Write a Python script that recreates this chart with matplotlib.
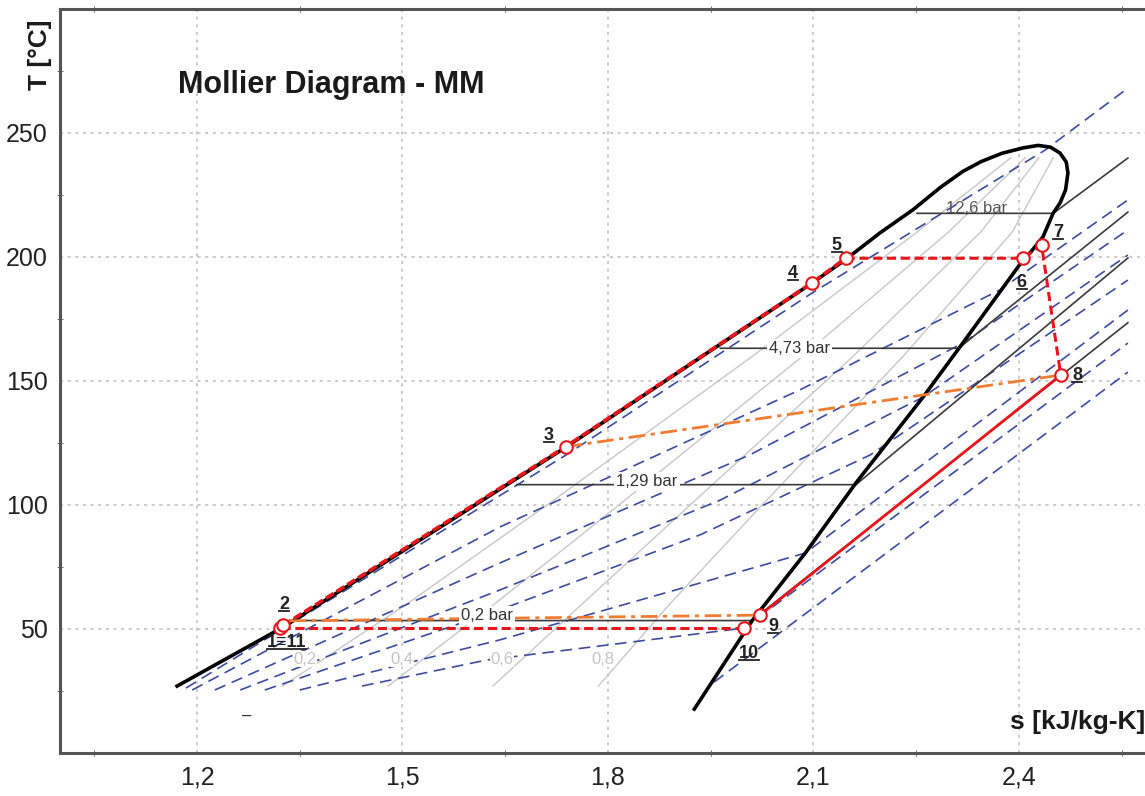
import matplotlib
matplotlib.use('Agg')
import matplotlib.pyplot as plt
from matplotlib.lines import Line2D
from matplotlib.transforms import IdentityTransform

plt.rcParams['font.family'] = ['Liberation Sans', 'DejaVu Sans']

# saturation dome (liquid side up to critical point, then vapour side down)
dome_s = [1.171, 1.326, 1.739, 2.098, 2.146, 2.197, 2.245, 2.285, 2.318, 2.345, 2.375,
          2.406, 2.428, 2.446, 2.460, 2.469, 2.4715, 2.468, 2.460, 2.450, 2.435, 2.416,
          2.406, 2.318, 2.260, 2.162, 2.088, 2.010, 1.926]
dome_T = [27.0, 50.8, 123.4, 189.5, 198.8, 209.7, 219.0, 228.0, 234.5, 238.5, 241.8,
          244.0, 245.0, 244.3, 241.9, 238.3, 233.9, 227.0, 221.8, 217.7, 208.1, 201.6,
          198.8, 165.3, 143.5, 108.9, 80.6, 53.2, 17.7]

# vapour quality lines
qual_T = [27, 60, 100, 160, 210, 240]
qual_02 = [1.325, 1.506, 1.711, 2.011, 2.251, 2.388]
qual_04 = [1.479, 1.634, 1.816, 2.084, 2.297, 2.409]
qual_06 = [1.632, 1.762, 1.920, 2.158, 2.344, 2.429]
qual_08 = [1.786, 1.890, 2.025, 2.231, 2.390, 2.450]
qual_labels = ['0,2', '0,4', '0,6', '0,8']
qual_label_s = [1.358, 1.499, 1.645, 1.793]
qual_label_T = 37.9

# isobars: saturation temperature and ends on the dome, then superheated branch
bar_labels = ['0,2 bar', '1,29 bar', '4,73 bar', '12,6 bar']
bar_T = [53.4, 108.2, 163.2, 217.6]
bar_s_liq = [1.336, 1.667, 1.964, 2.251]
bar_s_vap = [2.010, 2.162, 2.312, 2.450]
bar_end_s = [2.559, 2.559, 2.559, 2.559]
bar_end_T = [173.5, 199.6, 218.1, 239.9]
bar_label_s = [1.623, 1.857, 2.080, 2.338]
bar_label_T = [55.6, 109.4, 163.3, 219.6]

# isochores (blue dashed)
v1_s = [1.184, 1.739, 2.098, 2.438, 2.559]
v1_T = [26.2, 120.2, 185.5, 243.1, 268.1]
v2_s = [1.193, 1.642, 2.080, 2.372, 2.559]
v2_T = [25.4, 91.1, 146.4, 186.7, 223.0]
v3_s = [1.226, 1.642, 2.007, 2.318, 2.559]
v3_T = [25.4, 76.6, 120.2, 165.3, 210.9]
v4_s = [1.263, 1.642, 1.964, 2.260, 2.559]
v4_T = [25.4, 65.7, 102.0, 143.5, 200.8]
v5_s = [1.299, 1.642, 1.934, 2.183, 2.559]
v5_T = [25.4, 57.7, 87.9, 120.2, 190.7]
v6_s = [1.350, 1.642, 2.088, 2.559]
v6_T = [25.4, 45.6, 80.6, 178.6]
v7_s = [1.441, 1.623, 1.999, 2.559]
v7_T = [27.0, 37.5, 50.4, 165.3]
v8_s = [1.955, 2.559]
v8_T = [28.6, 153.6]

# cycle state points 1..10
state_s = [1.321, 1.326, 1.738, 2.098, 2.147, 2.406, 2.433, 2.461, 2.022, 1.999]
state_T = [50.3, 51.5, 123.5, 189.6, 199.5, 199.5, 204.8, 152.4, 55.6, 50.3]
label_text = ['1≡11', '2', '3', '4', '5', '6', '7', '8', '9', '10']
label_s = [1.331, 1.327, 1.714, 2.070, 2.134, 2.404, 2.457, 2.485, 2.041, 2.006]
label_T = [44.4, 59.7, 128.2, 193.5, 204.8, 189.9, 209.7, 152.4, 51.2, 40.3]

# orange regenerator lines
regen_hot_s = [1.738, 2.461]
regen_hot_T = [123.5, 152.4]
regen_cold_s = [1.335, 2.022]
regen_cold_T = [53.3, 55.6]

xticks = [1.2, 1.5, 1.8, 2.1, 2.4]
xtick_labels = ['1,2', '1,5', '1,8', '2,1', '2,4']
yticks = [50, 100, 150, 200, 250]

fig = plt.figure(figsize=(11.45, 7.96), dpi=100)
ax = fig.add_axes([60 / 1145, 43 / 796, 1085 / 1145, 744 / 796])
ax.set_xlim(1.0, 2.584)
ax.set_ylim(0, 300)

blue = '#3c4c9e'
red = '#e8151b'
orange = '#f07c32'

for q in [qual_02, qual_04, qual_06, qual_08]:
    ax.plot(q, qual_T, color='#c8c8c8', lw=1.0, zorder=2)
for txt, s in zip(qual_labels, qual_label_s):
    ax.text(s, qual_label_T, txt, color='#c4c4c4', fontsize=12, ha='center', va='center', zorder=8,
            bbox=dict(facecolor='white', edgecolor='none', pad=0.5))

for vs, vT in [(v1_s, v1_T), (v2_s, v2_T), (v3_s, v3_T), (v4_s, v4_T),
               (v5_s, v5_T), (v6_s, v6_T), (v7_s, v7_T), (v8_s, v8_T)]:
    ax.plot(vs, vT, color=blue, lw=1.2, dashes=(7, 4), zorder=3)

for i in range(4):
    ax.plot([bar_s_liq[i], bar_s_vap[i], bar_end_s[i]], [bar_T[i], bar_T[i], bar_end_T[i]],
            color='#3a3a3a', lw=1.2, zorder=4)
for i in range(3):
    ax.text(bar_label_s[i], bar_label_T[i], bar_labels[i], color='#333333', fontsize=12,
            ha='center', va='center', zorder=9,
            bbox=dict(facecolor='white', edgecolor='none', pad=1.5))
ax.text(bar_label_s[3], bar_label_T[3], bar_labels[3], color='#555555', fontsize=12,
        ha='center', va='center', zorder=9)

ax.plot(dome_s, dome_T, color='black', lw=2.6, zorder=5, solid_joinstyle='round')

# cycle
ax.plot(state_s[1:5], state_T[1:5], color=red, lw=2.6, dashes=(2.5, 1), zorder=6)
ax.plot(state_s[4:8], state_T[4:8], color=red, lw=2.2, dashes=(3, 1.5), zorder=6)
ax.plot(state_s[7:9], state_T[7:9], color=red, lw=2.0, zorder=6)
ax.plot([state_s[9], state_s[0]], [state_T[9], state_T[0]], color=red, lw=2.2, dashes=(3, 1.5), zorder=6)
ax.plot(regen_hot_s, regen_hot_T, color=orange, lw=2.0, dashes=(6, 2, 1.5, 2), zorder=6)
ax.plot(regen_cold_s, regen_cold_T, color=orange, lw=2.0, dashes=(6, 2, 1.5, 2), zorder=6)
ax.plot(state_s, state_T, 'o', mfc='white', mec=red, ms=9, mew=1.5, zorder=10)

point_labels = []
for txt, s, T in zip(label_text, label_s, label_T):
    point_labels.append(ax.text(s, T, txt, fontsize=13, fontweight='bold', color='#222222',
                                ha='center', va='center', zorder=11))

ax.text(1.273, 14.9, '–', fontsize=12, color='#222222', ha='center', va='center')

ax.text(0.2498, 0.8978, 'Mollier Diagram - MM', transform=ax.transAxes, fontsize=22,
        fontweight='bold', ha='center', va='center', color='#1a1a1a')
ax.text(1.0, 0.0417, 's [kJ/kg-K]', transform=ax.transAxes, fontsize=19,
        fontweight='bold', ha='right', va='center', color='#1a1a1a')
fig.text(40 / 1145, 1 - 55 / 796, 'T [°C]', rotation=90, fontsize=19, fontweight='bold',
         ha='center', va='center', color='#1a1a1a')

ax.set_xticks(xticks)
ax.set_xticklabels(xtick_labels)
ax.set_xticks([1.05, 1.35, 1.65, 1.95, 2.25, 2.55], minor=True)
ax.set_yticks(yticks)
ax.set_yticks([25, 75, 125, 175, 225, 275], minor=True)
ax.tick_params(which='major', length=0, labelsize=18, labelcolor='#222222', pad=9)
ax.tick_params(which='minor', length=5, direction='inout', top=True, color='#555555')
ax.grid(which='major', color='#bdbdbd', ls=(0, (2, 3)), lw=1.1)
ax.set_axisbelow(True)
for side in ['left', 'bottom', 'top']:
    ax.spines[side].set_color('#555555')
    ax.spines[side].set_linewidth(2.2)
ax.spines['right'].set_visible(False)

# underline the state point labels
fig.canvas.draw()
renderer = fig.canvas.get_renderer()
for t in point_labels:
    bb = t.get_window_extent(renderer)
    fig.add_artist(Line2D([bb.x0, bb.x1], [bb.y0 + 2, bb.y0 + 2], transform=IdentityTransform(),
                          color='#222222', lw=1.3, zorder=11))

fig.savefig('out.png', dpi=100)
